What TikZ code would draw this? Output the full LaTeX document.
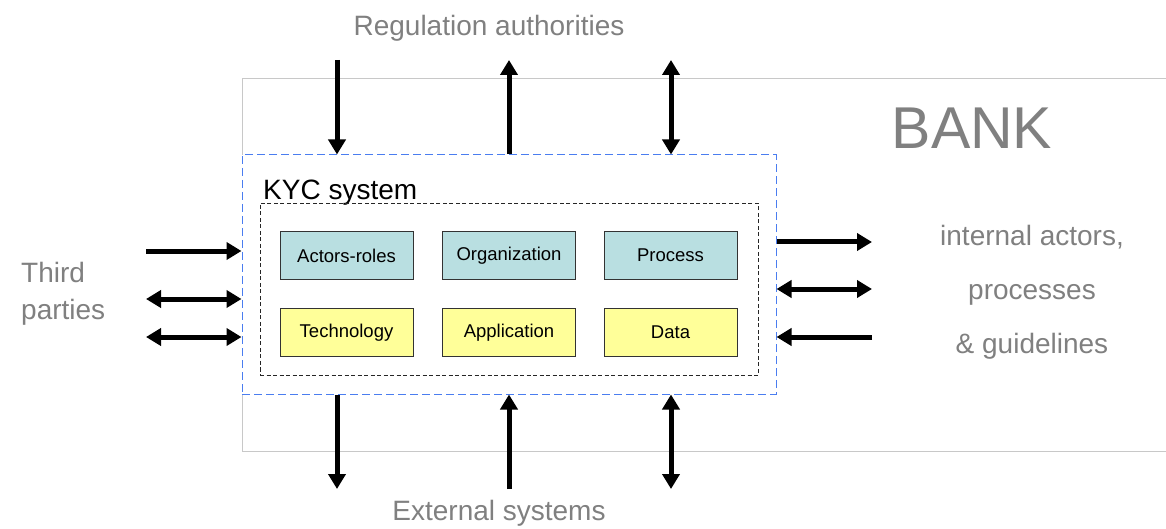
\documentclass[tikz,border=0pt]{standalone}
\usepackage{fontspec}
\setmainfont{Liberation Sans}
\usetikzlibrary{arrows.meta}

\definecolor{labelgray}{HTML}{808080}
\definecolor{bankline}{HTML}{C8C8C8}
\definecolor{kycblue}{HTML}{4A7DF0}
\definecolor{roleteal}{HTML}{B9DFE1}
\definecolor{techyellow}{HTML}{FFFF99}

\tikzset{
  head/.tip={Triangle[length=15pt,width=17pt]},
  flow/.style={line width=5pt, -head},
  flowback/.style={line width=5pt, head-},
  flowboth/.style={line width=5pt, head-head},
  part/.style={draw=black!80, line width=0.8pt, minimum width=133pt, minimum height=48pt,
               inner sep=0pt, font=\fontsize{18.5}{20}\selectfont},
  upper/.style={part, fill=roleteal},
  lower/.style={part, fill=techyellow},
  outside/.style={text=labelgray, inner sep=0pt, font=\fontsize{28}{30}\selectfont}
}

\begin{document}
\begin{tikzpicture}[x=1pt,y=-1pt]
  \useasboundingbox[fill=white] (0,0) rectangle (1166,529);

  % bank boundary, open to the right
  \draw[bankline, line width=1pt] (1166,79) -- (242,79) -- (242,451) -- (1166,451);
  \node[text=labelgray, inner sep=0pt, font=\fontsize{59}{60}\selectfont] (bank) at (972,128) {BANK};

  % KYC system
  \node[draw=kycblue, dash pattern=on 8pt off 4pt, line width=1pt, fill=white,
        minimum width=534pt, minimum height=239pt, inner sep=0pt] (kyc) at (509,274.5) {};
  \node[anchor=base west, inner sep=0pt, font=\fontsize{28}{30}\selectfont] (kyctitle) at (263,200) {KYC system};
  \node[draw=black!85, dash pattern=on 4pt off 2.5pt, line width=0.9pt,
        minimum width=498pt, minimum height=172pt, inner sep=0pt] (core) at (509,289) {};

  \node[upper] (actors) at (346.5,255.5) {Actors-roles};
  \node[upper] (org)    at (509,255.5)   {Organization};
  \node[upper] (proc)   at (670.5,255.5) {Process};
  \node[lower] (tech)   at (346.5,332.5) {Technology};
  \node[lower] (app)    at (509,332.5)   {Application};
  \node[lower] (data)   at (670.5,332.5) {Data};

  % outside parties
  \node[outside] (reg) at (489,28) {Regulation authorities};
  \node[outside] (ext) at (499,513) {External systems};
  \node[outside, anchor=west, align=left, font=\fontsize{28}{37}\selectfont] (third) at (21,294) {Third\\parties};
  \node[outside, align=center, font=\fontsize{28}{54}\selectfont] (internal) at (1032,292) {internal actors,\\processes\\\& guidelines};

  % free ends of the flows
  \coordinate (ta) at (337,60);  \coordinate (tb) at (509,60);  \coordinate (tc) at (671,60);
  \coordinate (ba) at (337,489); \coordinate (bb) at (509,489); \coordinate (bc) at (671,489);
  \coordinate (la) at (146,251); \coordinate (lb) at (146,299); \coordinate (lc) at (146,337);
  \coordinate (ra) at (872,242); \coordinate (rb) at (872,289); \coordinate (rc) at (872,337);

  % regulation authorities
  \draw[flow]     (ta) -- (ta |- kyc.north);
  \draw[flowback] (tb) -- (tb |- kyc.north);
  \draw[flowboth] (tc) -- (tc |- kyc.north);
  % external systems
  \draw[flowback] (ba) -- (ba |- kyc.south);
  \draw[flow]     (bb) -- (bb |- kyc.south);
  \draw[flowboth] (bc) -- (bc |- kyc.south);
  % third parties
  \draw[flow]     (la) -- (la -| kyc.west);
  \draw[flowboth] (lb) -- (lb -| kyc.west);
  \draw[flowboth] (lc) -- (lc -| kyc.west);
  % internal actors
  \draw[flowback] (ra) -- (ra -| kyc.east);
  \draw[flowboth] (rb) -- (rb -| kyc.east);
  \draw[flow]     (rc) -- (rc -| kyc.east);
\end{tikzpicture}
\end{document}
